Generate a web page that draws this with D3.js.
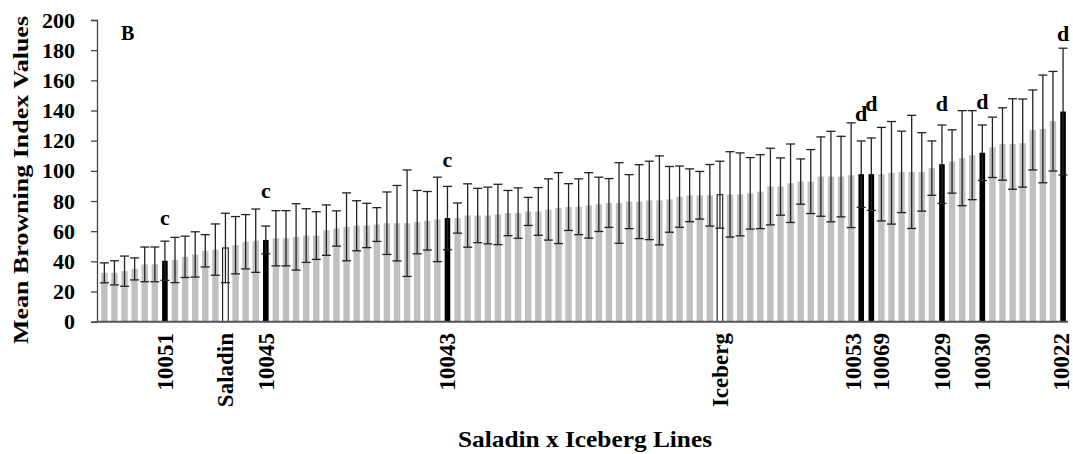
<!DOCTYPE html>
<html>
<head>
<meta charset="utf-8">
<script src="https://cdn.jsdelivr.net/npm/d3@7"></script>
<style>
  body { margin: 0; background: #fff; }
  text { font-family: "Liberation Serif", "Times New Roman", serif; font-weight: bold; }
</style>
</head>
<body>
<svg id="chart" width="1073" height="454"></svg>
<script>
// mean browning index per line, sorted low to high
const means = [
  32.4, 32.4, 33.5, 35, 38, 38, 40.4, 40.9, 43, 44.6, 47, 47.8, 48.9, 50.7, 53, 53.7,
  54.2, 55.3, 55.3, 56.2, 57.1, 57.1, 60.7, 61.8, 62.9, 63.6, 63.8, 64.4, 65.3, 65.3, 65.3, 66,
  66.9, 67.8, 68.7, 68.7, 70.4, 70.4, 70.4, 71.1, 72, 72, 73.1, 73.1, 74.4, 75.3, 76, 76.2,
  77.1, 77.8, 78.7, 78.7, 79.6, 79.6, 80.4, 80.4, 81.1, 82.9, 83.8, 83.8, 83.8, 84.2, 84.4, 84.4,
  85.1, 86.2, 89.6, 89.6, 91.8, 92.9, 92.9, 96.2, 96.2, 96.2, 97.1, 97.8, 97.8, 97.8, 98.7,
  99.3, 99.3, 99.3, 101.8, 104.4, 106.2, 108.4, 110.4, 112, 115.6, 117.8, 117.8, 118.4, 127.1, 127.8, 132.9, 139.3
];
// error bar half lengths
const errors = [
  6.6, 8, 10, 7.3, 11.5, 11.5, 13, 15, 13.7, 15, 10.7, 17, 23, 19, 18, 21,
  9.2, 18.3, 18.3, 22, 17.8, 15.8, 16.7, 11.7, 22.5, 16.6, 14.7, 11.2, 20.7, 25, 35.3, 21,
  19.4, 28, 21, 10, 21, 18, 18.8, 20, 15, 16.7, 9.3, 15.8, 20.3, 23.5, 15.5, 18.5,
  21.7, 18, 16.2, 26.7, 17.9, 24.5, 26, 29.5, 21.8, 20.3, 17.5, 15.8, 20.4, 22.2, 28.3, 27.5,
  23.7, 24.5, 25.4, 19, 26, 15, 21.2, 26.3, 30, 26.7, 34.7, 22, 24, 31, 34,
  27, 37.5, 26, 18, 26, 21, 31.5, 29.5, 18.4, 20, 24, 30, 29.2, 26.5, 35.7, 33, 42
];

// labelled bars on the x axis
const labeledIdx = [6, 12, 16, 34, 61, 75, 76, 83, 87, 95];
const labeledNames = ["10051", "Saladin", "10045", "10043", "Iceberg", "10053", "10069", "10029", "10030", "10022"];
const parentNames = ["Saladin", "Iceberg"];
// the two adjacent labels are pushed apart so they can be read
const labelNudge = { "10053": -8, "10069": 10, "10022": -2 };

// significance letters (value = baseline height in chart units)
const letterNames = ["10051", "10045", "10043", "10053", "10069", "10029", "10030", "10022"];
const letterText = ["c", "c", "c", "d", "d", "d", "d", "d"];
const letterY = [63.8, 81.8, 102.5, 133, 139.8, 139.8, 141, 186];

const yTicks = [0, 20, 40, 60, 80, 100, 120, 140, 160, 180, 200];

const categories = means.map((d, i) => {
  const k = labeledIdx.indexOf(i);
  return k >= 0 ? labeledNames[k] : "L" + (i + 1);
});
const rows = categories.map((c, i) => ({ name: c, mean: means[i], err: errors[i] }));

const svg = d3.select("#chart");
const mLeft = 97, mRight = 1068, mTop = 20, mBottom = 321.7;

const x = d3.scaleBand().domain(categories).range([99.3, 1068.1]).padding(0);
const y = d3.scaleLinear().domain([0, 200]).range([mBottom, mTop]);

const barColor = (d) => {
  if (parentNames.includes(d.name)) return "#fff";
  if (labeledNames.includes(d.name)) return "#000";
  return "#c0c0c0";
};

// bars
svg.append("g")
  .selectAll("rect")
  .data(rows)
  .enter()
  .append("rect")
  .attr("x", (d) => x(d.name) + x.bandwidth() / 2 - (labeledNames.includes(d.name) ? 2.8 : 3.2))
  .attr("y", (d) => y(d.mean))
  .attr("width", (d) => (labeledNames.includes(d.name) ? 5.6 : 6.4))
  .attr("height", (d) => mBottom - y(d.mean))
  .attr("fill", barColor)
  .attr("stroke", (d) => (parentNames.includes(d.name) ? "#000" : "none"))
  .attr("stroke-width", 1);

// error bars
const eb = svg.append("g").attr("stroke", "#222").attr("stroke-width", 1.3);
rows.forEach((d) => {
  const cx = x(d.name) + x.bandwidth() / 2;
  const y1 = y(d.mean + d.err), y0 = y(Math.max(0, d.mean - d.err));
  eb.append("line").attr("x1", cx).attr("x2", cx).attr("y1", y1).attr("y2", y0);
  eb.append("line").attr("x1", cx - 4.5).attr("x2", cx + 4.5).attr("y1", y1).attr("y2", y1);
  eb.append("line").attr("x1", cx - 4.5).attr("x2", cx + 4.5).attr("y1", y0).attr("y2", y0);
});

// y axis
const yAxis = svg.append("g")
  .attr("transform", `translate(${mLeft},0)`)
  .call(d3.axisLeft(y).tickValues(yTicks).tickSize(6).tickPadding(16));
yAxis.select(".domain").attr("stroke", "#444").attr("stroke-width", 1.3);
yAxis.selectAll(".tick line").attr("stroke", "#444").attr("stroke-width", 1.3);
yAxis.selectAll(".tick text")
  .attr("fill", "#000")
  .style("font-size", "22px")
  .style("font-family", "Liberation Serif, serif")
  .style("font-weight", "bold");

// x axis line
svg.append("line")
  .attr("x1", mLeft).attr("x2", mRight)
  .attr("y1", mBottom).attr("y2", mBottom)
  .attr("stroke", "#555").attr("stroke-width", 2);

// x tick labels (rotated)
svg.append("g")
  .selectAll("text")
  .data(labeledNames)
  .enter()
  .append("text")
  .attr("transform", (d) => `translate(${x(d) + x.bandwidth() / 2 + 8 + (labelNudge[d] || 0)},333) rotate(-90)`)
  .attr("text-anchor", "end")
  .style("font-size", "23px")
  .text((d) => d);

// significance letters
svg.append("g")
  .selectAll("text")
  .data(letterNames)
  .enter()
  .append("text")
  .attr("x", (d) => x(d) + x.bandwidth() / 2)
  .attr("y", (d, i) => y(letterY[i]))
  .attr("text-anchor", "middle")
  .style("font-size", "22px")
  .text((d, i) => letterText[i]);

// panel letter
svg.append("text").attr("x", 121).attr("y", 40).style("font-size", "20px").text("B");

// axis titles
svg.append("text")
  .attr("transform", "translate(28,180) rotate(-90)")
  .attr("text-anchor", "middle")
  .attr("textLength", 328)
  .attr("lengthAdjust", "spacingAndGlyphs")
  .style("font-size", "22px")
  .text("Mean Browning Index Values");

svg.append("text")
  .attr("x", 585).attr("y", 447)
  .attr("text-anchor", "middle")
  .attr("textLength", 254)
  .attr("lengthAdjust", "spacingAndGlyphs")
  .style("font-size", "23px")
  .text("Saladin x Iceberg Lines");
</script>
</body>
</html>
